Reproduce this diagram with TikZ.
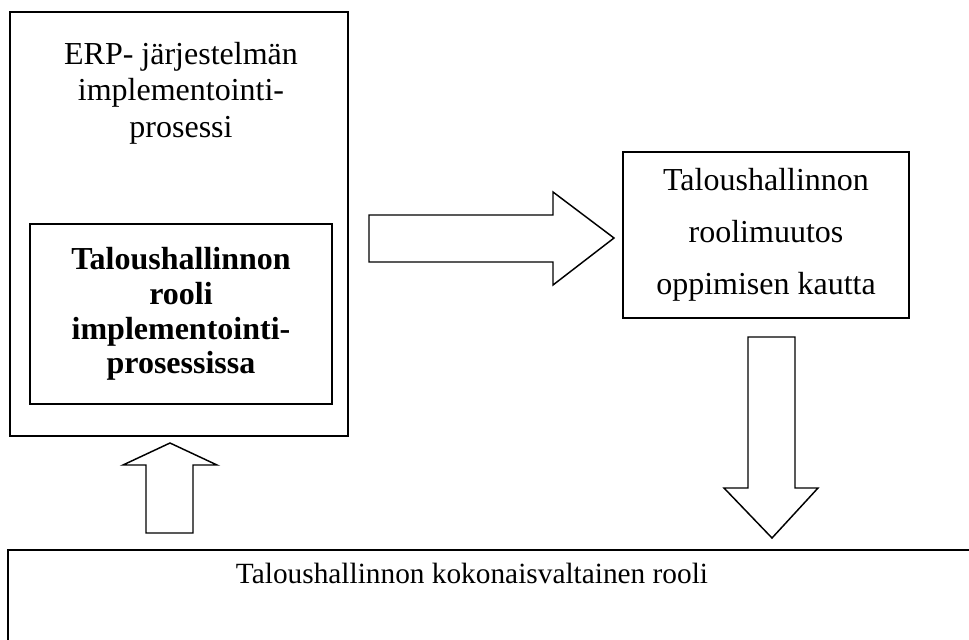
\documentclass[tikz,border=0pt]{standalone}
\usepackage{fontspec}
\setmainfont{Liberation Serif}
\usetikzlibrary{positioning}
\tikzset{laatikko/.style={draw,inner sep=0pt,outer sep=0pt,align=center}}

\begin{document}
\begin{tikzpicture}[x=0.75pt,y=-0.75pt,line width=1.1pt]
\useasboundingbox (0,0) rectangle (969,639);
\clip (0,0) rectangle (969,639);
% laatikot
\node[laatikko,anchor=north west,minimum width=253.5pt,minimum height=318pt] (erp) at (10,12) {};
\node[align=center,font=\fontsize{24}{27.5}\selectfont] (erpteksti) at (181,93) {ERP- järjestelmän\\implementointi-\\prosessi};
\node[laatikko,anchor=north west,minimum width=226.5pt,minimum height=135pt,font=\fontsize{24}{26}\selectfont\bfseries] (rooli) at (30,224) {Taloushallinnon\\rooli\\implementointi-\\prosessissa};
\node[laatikko,anchor=north west,minimum width=214.5pt,minimum height=124.5pt,font=\fontsize{24}{39}\selectfont] (muutos) at (623,152) {Taloushallinnon\\roolimuutos\\oppimisen kautta};
\node[laatikko,anchor=north west,minimum width=760pt,minimum height=90pt] (kokonais) at (8,550) {};
\node[font=\fontsize{22}{26}\selectfont] (kokonaisteksti) at (472,573) {Taloushallinnon kokonaisvaltainen rooli};
% nuolet
\draw (369,215)--(553,215)--(553,192)--(614,238)--(553,285)--(553,262)--(369,262)--cycle;
\draw (748,337)--(795,337)--(795,488)--(818,488)--(772,538)--(724,488)--(748,488)--cycle;
\draw (146,533)--(146,465)--(123,465)--(170,443)--(217,465)--(193,465)--(193,533)--cycle;
\end{tikzpicture}
\end{document}
